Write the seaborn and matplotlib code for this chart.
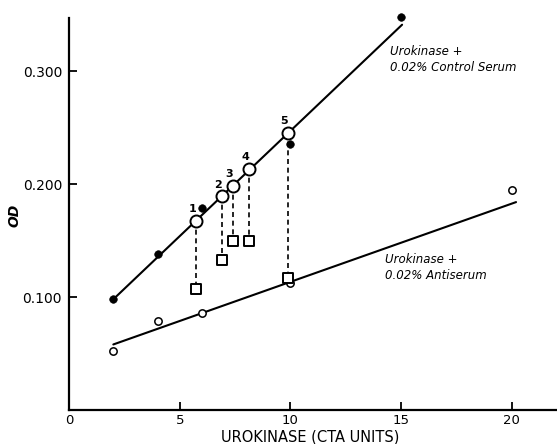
import matplotlib
matplotlib.use("Agg")
import matplotlib.pyplot as plt
import seaborn as sns
import pandas as pd
import numpy as np

# ---- data ----
control_x = [2, 4, 6, 10, 15]
control_y = [0.098, 0.138, 0.179, 0.235, 0.348]

anti_x = [2, 4, 6, 10, 20]
anti_y = [0.052, 0.079, 0.086, 0.112, 0.195]

control_fit_x = [2, 15.05]
control_fit_y = [0.098, 0.341]
anti_fit_x = [2, 20.2]
anti_fit_y = [0.058, 0.184]

sample_labels = ["1", "2", "3", "4", "5"]
sample_x = [5.75, 6.9, 7.4, 8.15, 9.9]
sample_control_y = [0.167, 0.189, 0.198, 0.213, 0.245]
sample_square_y = [0.107, 0.133, 0.150, 0.150, 0.117]

xticks = [0, 5, 10, 15, 20]
xtick_labels = ["0", "5", "10", "15", "20"]
yticks = [0.1, 0.2, 0.3]
ytick_labels = ["0.100", "0.200", "0.300"]

sns.set_style("ticks")
plt.rcParams['font.family'] = ['DejaVu Sans']
plt.rcParams['text.color'] = 'black'
plt.rcParams['xtick.color'] = 'black'
plt.rcParams['ytick.color'] = 'black'
plt.rcParams['axes.labelcolor'] = 'black'

fig = plt.figure(figsize=(5.57, 4.44), dpi=100)
ax = fig.add_axes([0.124, 0.0766, 0.874, 0.883])

# fitted lines
sns.lineplot(x=control_fit_x, y=control_fit_y, ax=ax, color="black", lw=1.5)
sns.lineplot(x=anti_fit_x, y=anti_fit_y, ax=ax, color="black", lw=1.5)

# dashed drop lines
for sx, cy, qy in zip(sample_x, sample_control_y, sample_square_y):
    ax.plot([sx, sx], [cy, qy], color="black", lw=1.2, ls=(0, (3, 2.2)), zorder=2)

# points
sns.scatterplot(x=control_x, y=control_y, ax=ax, color="black", s=30,
                edgecolor="black", zorder=4, clip_on=False)
sns.scatterplot(x=anti_x, y=anti_y, ax=ax, color="white", s=28,
                edgecolor="black", linewidth=1.1, zorder=4, clip_on=False)
sns.scatterplot(x=sample_x, y=sample_control_y, ax=ax, color="white", s=75,
                edgecolor="black", linewidth=1.4, zorder=5)
sns.scatterplot(x=sample_x, y=sample_square_y, ax=ax, color="white", s=60,
                marker="s", edgecolor="black", linewidth=1.4, zorder=5)

for lab, sx, cy in zip(sample_labels, sample_x, sample_control_y):
    ax.annotate(lab, (sx, cy), xytext=(-3, 5), textcoords="offset points",
                ha="center", va="bottom", fontsize=8, fontweight="bold")

ax.text(14.5, 0.310, "Urokinase +\n0.02% Control Serum", fontsize=8.5,
        style="italic", ha="left", va="center", linespacing=1.25)
ax.text(14.3, 0.126, "Urokinase +\n0.02% Antiserum", fontsize=8.5,
        style="italic", ha="left", va="center", linespacing=1.25)

ax.set_xlim(0, 22)
ax.set_ylim(0, 0.347)
ax.set_xticks(xticks)
ax.set_xticklabels(xtick_labels)
ax.set_yticks(yticks)
ax.set_yticklabels(ytick_labels)
ax.tick_params(axis="x", direction="in", length=6, width=1.3, pad=3, labelsize=9.5)
ax.tick_params(axis="y", direction="in", length=6, width=1.3, pad=5, labelsize=10)
for t in ax.get_xticklines():
    if t.get_xdata()[0] == 0:
        t.set_visible(False)

ax.set_xlabel("UROKINASE (CTA UNITS)", fontsize=10.5)
ax.set_ylabel("OD", fontsize=10, style="italic", fontweight="bold")
ax.xaxis.set_label_coords(0.495, -0.05)
ax.yaxis.set_label_coords(-0.098, 0.497)

sns.despine(ax=ax)
for s in ["left", "bottom"]:
    ax.spines[s].set_linewidth(1.6)
    ax.spines[s].set_color("black")

fig.savefig("out.png", dpi=100)
